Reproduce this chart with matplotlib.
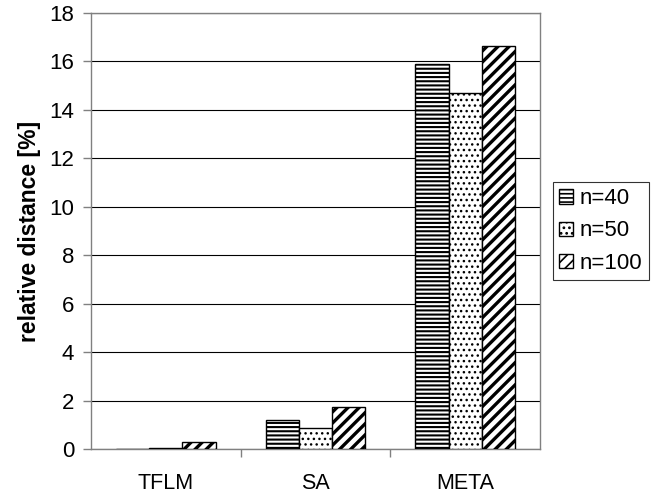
import numpy as np
import matplotlib.pyplot as plt

plt.rcParams['font.family'] = ['Liberation Sans', 'DejaVu Sans']
plt.rcParams['hatch.linewidth'] = 1.5

categories = ['TFLM', 'SA', 'META']
series = ['n=40', 'n=50', 'n=100']
n40 = [0.02, 1.2, 15.9]
n50 = [0.05, 0.85, 14.7]
n100 = [0.28, 1.75, 16.65]
hatches = ['----', '...', '///']
hatch_lw = [1.5, 1.0, 2.4]

fig = plt.figure(figsize=(6.69, 5.0), dpi=100)
ax = fig.add_axes([91 / 669, 51 / 500, 449 / 669, 436 / 500])

x = np.arange(len(categories))
w = 2 / 9
for i, (vals, lab, h) in enumerate(zip([n40, n50, n100], series, hatches)):
    bars = ax.bar(x + (i - 1) * w, vals, w, color='white', edgecolor='black',
                  hatch=h, linewidth=1.0, label=lab, zorder=3)
    for b in bars:
        if hasattr(b, 'set_hatch_linewidth'):
            b.set_hatch_linewidth(hatch_lw[i])

ax.set_xlim(-0.5, 2.5)
ax.set_ylim(0, 18)
ax.set_yticks(np.arange(0, 19, 2))
ax.yaxis.grid(True, color='black', linewidth=0.8, zorder=0)
ax.set_xticks([0.5, 1.5], minor=False)
ax.set_xticklabels(['', ''])
ax.set_xticks(x, minor=True)
ax.set_xticklabels(categories, minor=True)
ax.tick_params(axis='x', which='minor', length=0, labelsize=15.5, pad=17)
ax.tick_params(axis='x', which='major', length=6, color='#808080', width=1)
ax.tick_params(axis='y', labelsize=16, length=6, color='#808080', width=1, pad=6)
for s in ax.spines.values():
    s.set_color('#808080')
    s.set_linewidth(1)
ax.set_ylabel('relative distance [%]', fontsize=16.5, fontweight='bold', labelpad=6)

leg = ax.legend(loc='center left', bbox_to_anchor=(1.028, 0.5), fontsize=16,
                frameon=True, fancybox=False, edgecolor='black',
                handlelength=0.6, handleheight=0.6, handletextpad=0.3,
                borderpad=0.3, labelspacing=0.5, borderaxespad=0)
leg.get_frame().set_linewidth(0.8)
for p in leg.get_patches():
    if hasattr(p, 'set_hatch_linewidth'):
        p.set_hatch_linewidth(1.2)

fig.savefig('out.png', dpi=100)
